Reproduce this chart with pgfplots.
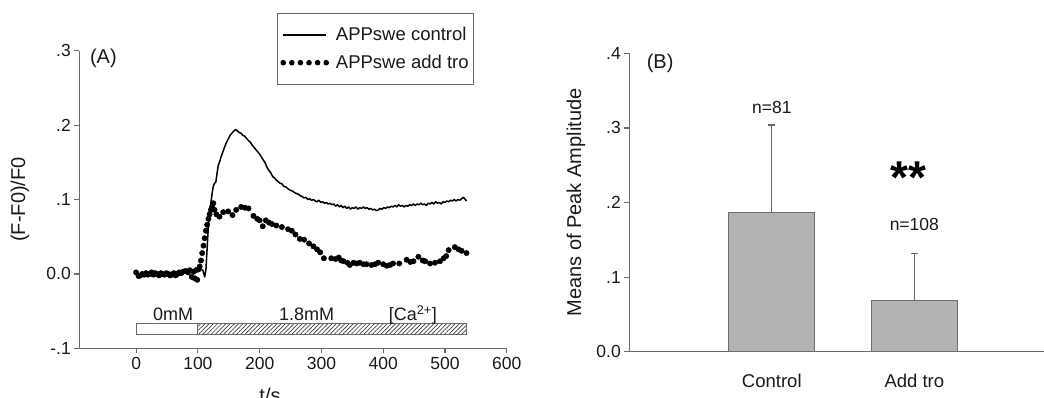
\documentclass[border=0pt]{standalone}
\usepackage{fontspec}
\setmainfont{Liberation Sans}
\usepackage{pgfplots}
\pgfplotsset{compat=1.18}
\usetikzlibrary{patterns.meta}

\definecolor{axgray}{HTML}{6A6A6A}
\definecolor{barfill}{HTML}{B3B3B3}
\definecolor{bardraw}{HTML}{6E6E6E}
\definecolor{txt}{HTML}{1A1A1A}

\pgfplotstableread{
x y
0 0.000
3 -0.004
6 -0.003
9 -0.001
12 0.001
15 -0.001
18 0.001
21 0.000
24 0.002
27 0.000
30 0.001
33 -0.001
36 0.001
39 0.000
42 0.002
45 0.001
48 0.000
51 0.002
54 0.001
57 0.002
60 0.000
63 0.002
66 0.003
69 0.002
72 0.003
75 0.002
78 0.004
81 0.003
84 0.004
87 0.003
90 0.005
93 0.004
96 0.005
99 0.006
102 0.004
105 0.006
108 0.005
111 -0.004
113 0.005
115 0.035
117 0.065
119 0.082
121 0.095
123 0.108
125 0.118
127 0.122
129 0.123
131 0.135
133 0.146
135 0.150
137 0.156
140 0.163
143 0.170
146 0.176
149 0.181
152 0.186
155 0.189
158 0.192
161 0.194
164 0.192
167 0.190
170 0.189
173 0.186
176 0.185
179 0.182
182 0.179
185 0.177
188 0.173
191 0.170
194 0.167
197 0.164
200 0.161
203 0.157
206 0.153
209 0.149
212 0.143
215 0.139
218 0.136
221 0.131
224 0.129
227 0.126
230 0.124
233 0.122
236 0.121
239 0.118
242 0.117
245 0.115
248 0.113
251 0.112
254 0.111
257 0.109
260 0.108
263 0.107
266 0.105
269 0.104
272 0.102
275 0.103
278 0.100
281 0.101
284 0.099
287 0.100
290 0.098
293 0.097
296 0.099
299 0.096
302 0.097
305 0.095
308 0.096
311 0.094
314 0.095
317 0.093
320 0.094
323 0.091
326 0.093
329 0.090
332 0.092
335 0.089
338 0.091
341 0.088
344 0.090
347 0.087
350 0.089
353 0.088
356 0.090
359 0.087
362 0.089
365 0.088
368 0.090
371 0.088
374 0.089
377 0.087
380 0.088
383 0.086
386 0.087
389 0.085
392 0.086
395 0.088
398 0.087
401 0.089
404 0.088
407 0.090
410 0.089
413 0.091
416 0.090
419 0.092
422 0.090
425 0.093
428 0.091
431 0.092
434 0.090
437 0.092
440 0.091
443 0.093
446 0.092
449 0.094
452 0.092
455 0.094
458 0.093
461 0.095
464 0.093
467 0.094
470 0.092
473 0.095
476 0.094
479 0.096
482 0.094
485 0.097
488 0.095
491 0.096
494 0.094
497 0.097
500 0.096
503 0.098
506 0.097
509 0.099
512 0.098
515 0.100
518 0.098
521 0.100
524 0.099
527 0.101
530 0.103
533 0.100
535 0.098
}\controldata

\pgfplotstableread{
x y
0 0.002
4 -0.003
7 -0.002
10 0.000
13 -0.001
16 0.001
19 -0.001
22 0.000
25 0.002
28 -0.001
31 0.001
34 0.000
37 -0.002
40 0.001
43 0.000
46 -0.001
49 0.001
52 0.000
55 -0.002
58 -0.001
61 0.001
64 -0.002
67 0.000
70 0.002
73 0.001
76 0.003
80 0.004
84 0.002
87 0.005
90 -0.004
93 0.003
95 -0.006
97 0.005
99 -0.008
101 0.006
103 0.010
105 0.018
107 0.028
109 0.038
111 0.048
113 0.058
115 0.066
117 0.074
119 0.080
121 0.086
123 0.090
125 0.095
127 0.086
130 0.080
135 0.077
141 0.083
149 0.084
156 0.079
162 0.086
170 0.090
176 0.089
182 0.088
190 0.078
196 0.074
200 0.072
205 0.064
210 0.072
215 0.069
220 0.067
227 0.065
236 0.063
246 0.060
252 0.058
258 0.053
265 0.047
272 0.046
280 0.041
287 0.037
293 0.033
298 0.029
304 0.021
316 0.021
323 0.020
328 0.022
332 0.018
336 0.017
342 0.015
346 0.012
352 0.015
357 0.014
362 0.015
368 0.013
373 0.013
381 0.012
387 0.013
392 0.015
400 0.013
406 0.011
411 0.012
416 0.014
426 0.014
438 0.019
444 0.016
449 0.017
457 0.023
464 0.018
468 0.017
476 0.014
484 0.015
492 0.017
498 0.021
502 0.024
506 0.032
516 0.036
522 0.033
527 0.031
535 0.028
}\trodata

\pgfplotstableread{
x y e
1 0.187 0.117
2 0.069 0.063
}\bardata

\begin{document}
\begin{tikzpicture}
\useasboundingbox (0,0) rectangle (1044pt,397pt);
\begin{axis}[
  at={(79.3pt,48.7pt)}, anchor=south west,
  scale only axis, width=427.4pt, height=297.6pt,
  xmin=-92, xmax=600, ymin=-0.1, ymax=0.3,
  axis lines=left, axis line style={-, axgray, line width=1.2pt},
  tick style={axgray, line width=1.2pt}, tick align=outside, major tick length=5pt,
  xtick={0,100,200,300,400,500,600}, ytick={-0.1,0,0.1,0.2,0.3},
  yticklabels={-.1,0.0,.1,.2,.3},
  xticklabels={0,100,200,300,400,500,600},
  ticklabel style={font=\fontsize{17.5}{20}\selectfont, text=txt},
  ylabel={(F-F0)/F0},
  ylabel style={at={(axis description cs:-0.139,0.5)}, anchor=center, font=\fontsize{20}{24}\selectfont, text=txt},
  clip=false,
  legend style={at={(0.4626,1.127)}, anchor=north west, draw=axgray, line width=0.9pt,
    font=\fontsize{18.5}{22}\selectfont, text=txt, inner xsep=3pt, inner ysep=12pt, row sep=9pt,
    /tikz/every odd column/.append style={column sep=5pt}},
  legend cell align=left,
]
\addplot[black, line width=1.5pt, line join=round,
  legend image code/.code={\draw[black,line width=1.5pt] (0pt,0pt) -- (43pt,0pt);}]
  table[x=x,y=y] {\controldata};
\addlegendentry{APPswe control}
\addplot[only marks, mark=*, mark size=2.7pt, black,
  legend image code/.code={\foreach \k in {0,...,5}{\fill[black] (\k*8.6pt,0pt) circle (2.3pt);}}]
  table[x=x,y=y] {\trodata};
\addlegendentry{APPswe add tro}

\draw[axgray, fill=white, line width=0.8pt] (axis cs:0,-0.081) rectangle (axis cs:100,-0.066);
\fill[pattern={Lines[angle=45, distance=3pt, line width=0.7pt]}, pattern color=black!75] (axis cs:100,-0.081) rectangle (axis cs:535,-0.066);
\draw[axgray, line width=0.8pt] (axis cs:100,-0.081) rectangle (axis cs:535,-0.066);
\node[anchor=base, font=\fontsize{18}{20}\selectfont, text=txt] at (axis cs:60,-0.0625) {0mM};
\node[anchor=base, font=\fontsize{18}{20}\selectfont, text=txt] at (axis cs:276,-0.0625) {1.8mM};
\node[anchor=base, font=\fontsize{18}{20}\selectfont, text=txt] at (axis cs:448,-0.0625) {[Ca\textsuperscript{2+}]};
\node[font=\fontsize{20}{24}\selectfont, text=txt] at (axis cs:-53,0.29) {(A)};
\end{axis}
\node[anchor=base, font=\fontsize{20}{24}\selectfont, text=txt] at (270pt,-5pt) {t/s};

\begin{axis}[
  at={(629.3pt,45.3pt)}, anchor=south west,
  scale only axis, width=414.7pt, height=298.4pt,
  xmin=0, xmax=2.91, ymin=0, ymax=0.4,
  axis lines=left, axis line style={-, axgray, line width=1.2pt},
  tick style={axgray, line width=1.2pt}, tick align=outside, major tick length=5pt,
  xtick={1,2}, xticklabels={Control,Add tro}, x tick style={draw=none},
  xticklabel style={yshift=-14pt},
  ytick={0,0.1,0.2,0.3,0.4}, yticklabels={0.0,.1,.2,.3,.4},
  ticklabel style={font=\fontsize{17.5}{20}\selectfont, text=txt},
  xticklabel style={font=\fontsize{18.5}{22}\selectfont},
  ylabel={Means of Peak Amplitude},
  ylabel style={at={(axis description cs:-0.1285,0.5)}, anchor=center, font=\fontsize{20}{24}\selectfont, text=txt},
  ybar, bar width=86pt,
  clip=false,
]
\addplot[fill=barfill, draw=bardraw, line width=1pt,
  error bars/.cd, y dir=plus, y explicit,
  error bar style={axgray, line width=1.2pt},
  error mark options={rotate=90, mark size=3.5pt, axgray, line width=1.2pt}]
  table[x=x, y=y, y error=e] {\bardata};
\node[font=\fontsize{17.5}{20}\selectfont, text=txt] at (axis cs:1,0.328) {n=81};
\node[font=\fontsize{17.5}{20}\selectfont, text=txt] at (axis cs:2,0.170) {n=108};
\node[anchor=base, font=\bfseries\fontsize{46}{50}\selectfont, text=black] at (axis cs:1.96,0.212) {**};
\node[font=\fontsize{20}{24}\selectfont, text=txt] at (axis cs:0.216,0.387) {(B)};
\end{axis}
\end{tikzpicture}
\end{document}
